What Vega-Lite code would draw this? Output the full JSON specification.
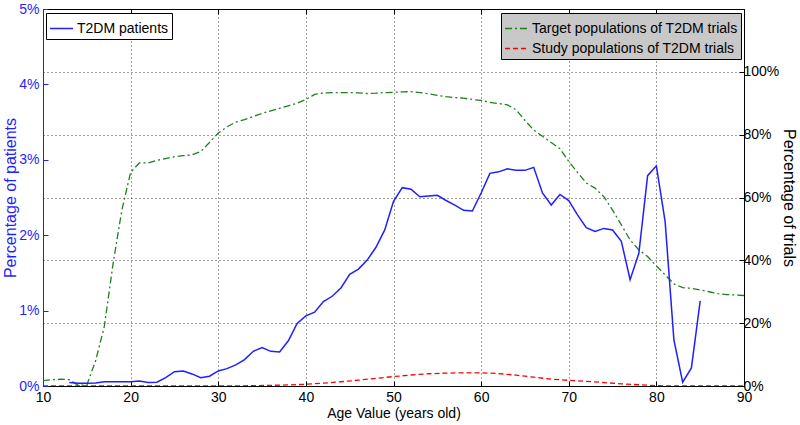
{
  "$schema": "https://vega.github.io/schema/vega-lite/v6.json",
  "width": 701,
  "height": 377,
  "autosize": {"type": "none"},
  "padding": {"left": 43, "top": 9, "right": 56, "bottom": 39},
  "background": "#ffffff",
  "config": {
    "font": "Liberation Sans",
    "view": {"stroke": "#000000", "strokeWidth": 1},
    "axis": {"labelFont": "Liberation Sans", "titleFont": "Liberation Sans", "titleFontWeight": "normal"}
  },
  "datasets": {
    "patients": [
      {"age": 13, "v": 0.045}, {"age": 14, "v": 0.035}, {"age": 15, "v": 0.035}, {"age": 16, "v": 0.04},
      {"age": 17, "v": 0.057}, {"age": 18, "v": 0.057}, {"age": 19, "v": 0.057}, {"age": 20, "v": 0.057},
      {"age": 21, "v": 0.065}, {"age": 22, "v": 0.047}, {"age": 23, "v": 0.05}, {"age": 24, "v": 0.11},
      {"age": 25, "v": 0.19}, {"age": 26, "v": 0.2}, {"age": 27, "v": 0.16}, {"age": 28, "v": 0.11},
      {"age": 29, "v": 0.13}, {"age": 30, "v": 0.2}, {"age": 31, "v": 0.23}, {"age": 32, "v": 0.28},
      {"age": 33, "v": 0.35}, {"age": 34, "v": 0.46}, {"age": 35, "v": 0.51}, {"age": 36, "v": 0.46},
      {"age": 37, "v": 0.45}, {"age": 38, "v": 0.6}, {"age": 39, "v": 0.83}, {"age": 40, "v": 0.93},
      {"age": 41, "v": 0.98}, {"age": 42, "v": 1.12}, {"age": 43, "v": 1.19}, {"age": 44, "v": 1.3},
      {"age": 45, "v": 1.48}, {"age": 46, "v": 1.55}, {"age": 47, "v": 1.67}, {"age": 48, "v": 1.84},
      {"age": 49, "v": 2.07}, {"age": 50, "v": 2.45}, {"age": 51, "v": 2.63}, {"age": 52, "v": 2.61},
      {"age": 53, "v": 2.51}, {"age": 54, "v": 2.52}, {"age": 55, "v": 2.53}, {"age": 56, "v": 2.46},
      {"age": 57, "v": 2.4}, {"age": 58, "v": 2.33}, {"age": 59, "v": 2.32}, {"age": 60, "v": 2.56},
      {"age": 61, "v": 2.82}, {"age": 62, "v": 2.84}, {"age": 63, "v": 2.88}, {"age": 64, "v": 2.86},
      {"age": 65, "v": 2.86}, {"age": 66, "v": 2.9}, {"age": 67, "v": 2.56}, {"age": 68, "v": 2.4},
      {"age": 69, "v": 2.54}, {"age": 70, "v": 2.46}, {"age": 71, "v": 2.27}, {"age": 72, "v": 2.1},
      {"age": 73, "v": 2.05}, {"age": 74, "v": 2.09}, {"age": 75, "v": 2.07}, {"age": 76, "v": 1.92},
      {"age": 77, "v": 1.41}, {"age": 78, "v": 1.76}, {"age": 79, "v": 2.79}, {"age": 80, "v": 2.92},
      {"age": 81, "v": 2.18}, {"age": 82, "v": 0.61}, {"age": 83, "v": 0.05}, {"age": 84, "v": 0.24},
      {"age": 85, "v": 1.13}
    ],
    "trials": [
      {"s": "Target populations of T2DM trials", "age": 10, "v": 1.7},
      {"s": "Target populations of T2DM trials", "age": 11, "v": 2.0},
      {"s": "Target populations of T2DM trials", "age": 12, "v": 2.2},
      {"s": "Target populations of T2DM trials", "age": 13, "v": 2.0},
      {"s": "Target populations of T2DM trials", "age": 14, "v": 0.3},
      {"s": "Target populations of T2DM trials", "age": 15, "v": 0.3},
      {"s": "Target populations of T2DM trials", "age": 16, "v": 8},
      {"s": "Target populations of T2DM trials", "age": 17, "v": 19},
      {"s": "Target populations of T2DM trials", "age": 18, "v": 39},
      {"s": "Target populations of T2DM trials", "age": 19, "v": 56},
      {"s": "Target populations of T2DM trials", "age": 20, "v": 68},
      {"s": "Target populations of T2DM trials", "age": 21, "v": 71},
      {"s": "Target populations of T2DM trials", "age": 22, "v": 71},
      {"s": "Target populations of T2DM trials", "age": 23, "v": 71.8},
      {"s": "Target populations of T2DM trials", "age": 24, "v": 72.4},
      {"s": "Target populations of T2DM trials", "age": 25, "v": 73},
      {"s": "Target populations of T2DM trials", "age": 26, "v": 73.3},
      {"s": "Target populations of T2DM trials", "age": 27, "v": 73.6},
      {"s": "Target populations of T2DM trials", "age": 28, "v": 74.6},
      {"s": "Target populations of T2DM trials", "age": 29, "v": 77.5},
      {"s": "Target populations of T2DM trials", "age": 30, "v": 80.5},
      {"s": "Target populations of T2DM trials", "age": 31, "v": 82.5},
      {"s": "Target populations of T2DM trials", "age": 32, "v": 84},
      {"s": "Target populations of T2DM trials", "age": 33, "v": 84.8},
      {"s": "Target populations of T2DM trials", "age": 34, "v": 85.8},
      {"s": "Target populations of T2DM trials", "age": 35, "v": 86.8},
      {"s": "Target populations of T2DM trials", "age": 36, "v": 87.6},
      {"s": "Target populations of T2DM trials", "age": 37, "v": 88.4},
      {"s": "Target populations of T2DM trials", "age": 38, "v": 89.2},
      {"s": "Target populations of T2DM trials", "age": 39, "v": 90},
      {"s": "Target populations of T2DM trials", "age": 40, "v": 91.2},
      {"s": "Target populations of T2DM trials", "age": 41, "v": 92.8},
      {"s": "Target populations of T2DM trials", "age": 42, "v": 93.3},
      {"s": "Target populations of T2DM trials", "age": 43, "v": 93.4},
      {"s": "Target populations of T2DM trials", "age": 44, "v": 93.4},
      {"s": "Target populations of T2DM trials", "age": 45, "v": 93.4},
      {"s": "Target populations of T2DM trials", "age": 46, "v": 93.3},
      {"s": "Target populations of T2DM trials", "age": 47, "v": 93.1},
      {"s": "Target populations of T2DM trials", "age": 48, "v": 93.2},
      {"s": "Target populations of T2DM trials", "age": 49, "v": 93.4},
      {"s": "Target populations of T2DM trials", "age": 50, "v": 93.5},
      {"s": "Target populations of T2DM trials", "age": 51, "v": 93.6},
      {"s": "Target populations of T2DM trials", "age": 52, "v": 93.7},
      {"s": "Target populations of T2DM trials", "age": 53, "v": 93.4},
      {"s": "Target populations of T2DM trials", "age": 54, "v": 93},
      {"s": "Target populations of T2DM trials", "age": 55, "v": 92.5},
      {"s": "Target populations of T2DM trials", "age": 56, "v": 92.1},
      {"s": "Target populations of T2DM trials", "age": 57, "v": 91.8},
      {"s": "Target populations of T2DM trials", "age": 58, "v": 91.6},
      {"s": "Target populations of T2DM trials", "age": 59, "v": 91.2},
      {"s": "Target populations of T2DM trials", "age": 60, "v": 90.9},
      {"s": "Target populations of T2DM trials", "age": 61, "v": 90.3},
      {"s": "Target populations of T2DM trials", "age": 62, "v": 89.9},
      {"s": "Target populations of T2DM trials", "age": 63, "v": 89.5},
      {"s": "Target populations of T2DM trials", "age": 64, "v": 87.9},
      {"s": "Target populations of T2DM trials", "age": 65, "v": 84.5},
      {"s": "Target populations of T2DM trials", "age": 66, "v": 81.5},
      {"s": "Target populations of T2DM trials", "age": 67, "v": 79.5},
      {"s": "Target populations of T2DM trials", "age": 68, "v": 77.5},
      {"s": "Target populations of T2DM trials", "age": 69, "v": 75.5},
      {"s": "Target populations of T2DM trials", "age": 70, "v": 71.5},
      {"s": "Target populations of T2DM trials", "age": 71, "v": 68},
      {"s": "Target populations of T2DM trials", "age": 72, "v": 64.6},
      {"s": "Target populations of T2DM trials", "age": 73, "v": 63},
      {"s": "Target populations of T2DM trials", "age": 74, "v": 60.3},
      {"s": "Target populations of T2DM trials", "age": 75, "v": 56},
      {"s": "Target populations of T2DM trials", "age": 76, "v": 51.3},
      {"s": "Target populations of T2DM trials", "age": 77, "v": 46.5},
      {"s": "Target populations of T2DM trials", "age": 78, "v": 43.3},
      {"s": "Target populations of T2DM trials", "age": 79, "v": 41.2},
      {"s": "Target populations of T2DM trials", "age": 80, "v": 38.2},
      {"s": "Target populations of T2DM trials", "age": 81, "v": 35.4},
      {"s": "Target populations of T2DM trials", "age": 82, "v": 32.5},
      {"s": "Target populations of T2DM trials", "age": 83, "v": 31.3},
      {"s": "Target populations of T2DM trials", "age": 84, "v": 31.1},
      {"s": "Target populations of T2DM trials", "age": 85, "v": 30.6},
      {"s": "Target populations of T2DM trials", "age": 86, "v": 30},
      {"s": "Target populations of T2DM trials", "age": 87, "v": 29.4},
      {"s": "Target populations of T2DM trials", "age": 88, "v": 29.1},
      {"s": "Target populations of T2DM trials", "age": 89, "v": 29},
      {"s": "Target populations of T2DM trials", "age": 90, "v": 28.8},
      {"s": "Study populations of T2DM trials", "age": 10, "v": 0},
      {"s": "Study populations of T2DM trials", "age": 14, "v": 0},
      {"s": "Study populations of T2DM trials", "age": 18, "v": 0},
      {"s": "Study populations of T2DM trials", "age": 22, "v": 0},
      {"s": "Study populations of T2DM trials", "age": 26, "v": 0},
      {"s": "Study populations of T2DM trials", "age": 30, "v": 0},
      {"s": "Study populations of T2DM trials", "age": 32, "v": 0.05},
      {"s": "Study populations of T2DM trials", "age": 34, "v": 0.1},
      {"s": "Study populations of T2DM trials", "age": 36, "v": 0.2},
      {"s": "Study populations of T2DM trials", "age": 38, "v": 0.35},
      {"s": "Study populations of T2DM trials", "age": 40, "v": 0.55},
      {"s": "Study populations of T2DM trials", "age": 42, "v": 0.9},
      {"s": "Study populations of T2DM trials", "age": 44, "v": 1.35},
      {"s": "Study populations of T2DM trials", "age": 46, "v": 1.85},
      {"s": "Study populations of T2DM trials", "age": 48, "v": 2.45},
      {"s": "Study populations of T2DM trials", "age": 50, "v": 3.0},
      {"s": "Study populations of T2DM trials", "age": 52, "v": 3.5},
      {"s": "Study populations of T2DM trials", "age": 54, "v": 3.9},
      {"s": "Study populations of T2DM trials", "age": 56, "v": 4.1},
      {"s": "Study populations of T2DM trials", "age": 58, "v": 4.2},
      {"s": "Study populations of T2DM trials", "age": 60, "v": 4.2},
      {"s": "Study populations of T2DM trials", "age": 62, "v": 3.95},
      {"s": "Study populations of T2DM trials", "age": 64, "v": 3.45},
      {"s": "Study populations of T2DM trials", "age": 66, "v": 2.8},
      {"s": "Study populations of T2DM trials", "age": 68, "v": 2.2},
      {"s": "Study populations of T2DM trials", "age": 70, "v": 1.8},
      {"s": "Study populations of T2DM trials", "age": 72, "v": 1.5},
      {"s": "Study populations of T2DM trials", "age": 74, "v": 1.1},
      {"s": "Study populations of T2DM trials", "age": 76, "v": 0.7},
      {"s": "Study populations of T2DM trials", "age": 78, "v": 0.4},
      {"s": "Study populations of T2DM trials", "age": 80, "v": 0.1},
      {"s": "Study populations of T2DM trials", "age": 82, "v": 0},
      {"s": "Study populations of T2DM trials", "age": 86, "v": 0},
      {"s": "Study populations of T2DM trials", "age": 90, "v": 0}
    ]
  },
  "layer": [
    {
      "data": {"name": "trials"},
      "mark": {"type": "line", "strokeWidth": 1.3, "clip": true},
      "encoding": {
        "x": {
          "field": "age", "type": "quantitative",
          "scale": {"domain": [10, 90], "nice": false, "zero": false},
          "axis": {
            "orient": "bottom", "values": [10, 20, 30, 40, 50, 60, 70, 80, 90],
            "title": "Age Value (years old)", "titleFontSize": 14, "titleColor": "#000", "titlePadding": 2,
            "labelFontSize": 14, "labelColor": "#000", "labelPadding": 9, "labelFlush": false,
            "tickColor": "#000", "tickSize": -5, "domain": false,
            "grid": true, "gridDash": [1, 3], "gridColor": "#000", "gridOpacity": 0.75
          }
        },
        "y": {
          "field": "v", "type": "quantitative",
          "scale": {"domain": [0, 120], "nice": false},
          "axis": {
            "orient": "right", "values": [0, 20, 40, 60, 80, 100],
            "labelExpr": "datum.value + '%'",
            "title": "Percentage of trials", "titleFontSize": 16, "titleColor": "#000", "titlePadding": 2,
            "labelFontSize": 14, "labelColor": "#000", "labelPadding": 4,
            "tickColor": "#000", "tickSize": -5, "domain": false,
            "grid": true, "gridDash": [1, 3], "gridColor": "#000", "gridOpacity": 0.75
          }
        },
        "color": {
          "field": "s", "type": "nominal",
          "scale": {"domain": ["Target populations of T2DM trials", "Study populations of T2DM trials"], "range": ["#1f7f1f", "#ff0000"]},
          "legend": {
            "title": null, "orient": "none", "legendX": 458, "legendY": 4,
            "fillColor": "#c8c8c8", "strokeColor": "#000", "padding": 3, "cornerRadius": 0,
            "symbolType": "stroke", "symbolSize": 529, "symbolStrokeWidth": 1.5,
            "labelFontSize": 14, "labelColor": "#000", "labelOffset": 3, "labelLimit": 400, "rowPadding": 0
          }
        },
        "strokeDash": {
          "field": "s", "type": "nominal",
          "scale": {"domain": ["Target populations of T2DM trials", "Study populations of T2DM trials"], "range": [[7, 3, 2, 3], [5, 3]]},
          "legend": {
            "title": null, "orient": "none", "legendX": 458, "legendY": 4,
            "fillColor": "#c8c8c8", "strokeColor": "#000", "padding": 3, "cornerRadius": 0,
            "symbolType": "stroke", "symbolSize": 529, "symbolStrokeWidth": 1.5,
            "labelFontSize": 14, "labelColor": "#000", "labelOffset": 3, "labelLimit": 400, "rowPadding": 0
          }
        }
      }
    },
    {
      "data": {"name": "patients"},
      "transform": [{"calculate": "'T2DM patients'", "as": "s"}],
      "mark": {"type": "line", "strokeWidth": 1.5, "clip": true},
      "encoding": {
        "x": {
          "field": "age", "type": "quantitative",
          "scale": {"domain": [10, 90], "nice": false, "zero": false},
          "axis": {
            "orient": "top", "values": [10, 20, 30, 40, 50, 60, 70, 80, 90],
            "labels": false, "title": null, "tickColor": "#000", "tickSize": -5, "domain": false, "grid": false
          }
        },
        "y": {
          "field": "v", "type": "quantitative",
          "scale": {"domain": [0, 5], "nice": false},
          "axis": {
            "orient": "left", "values": [0, 1, 2, 3, 4, 5],
            "labelExpr": "datum.value + '%'",
            "title": "Percentage of patients", "titleFontSize": 16, "titleColor": "#1f1fff", "titlePadding": 0,
            "labelFontSize": 14, "labelColor": "#1f1fff", "labelPadding": 9,
            "tickColor": "#1f1fff", "tickSize": -5, "domain": true, "domainColor": "#1f1fff",
            "grid": false
          }
        },
        "color": {
          "field": "s", "type": "nominal",
          "scale": {"domain": ["T2DM patients"], "range": ["#1f1fff"]},
          "legend": {
            "title": null, "orient": "none", "legendX": 3, "legendY": 4,
            "fillColor": "#ffffff", "strokeColor": "#000", "padding": 3, "cornerRadius": 0,
            "symbolType": "stroke", "symbolSize": 529, "symbolStrokeWidth": 1.5,
            "labelFontSize": 14, "labelColor": "#000", "labelOffset": 3
          }
        }
      }
    }
  ],
  "resolve": {
    "scale": {"y": "independent", "color": "independent", "strokeDash": "independent"},
    "axis": {"x": "independent", "y": "independent"},
    "legend": {"color": "independent", "strokeDash": "independent"}
  }
}
